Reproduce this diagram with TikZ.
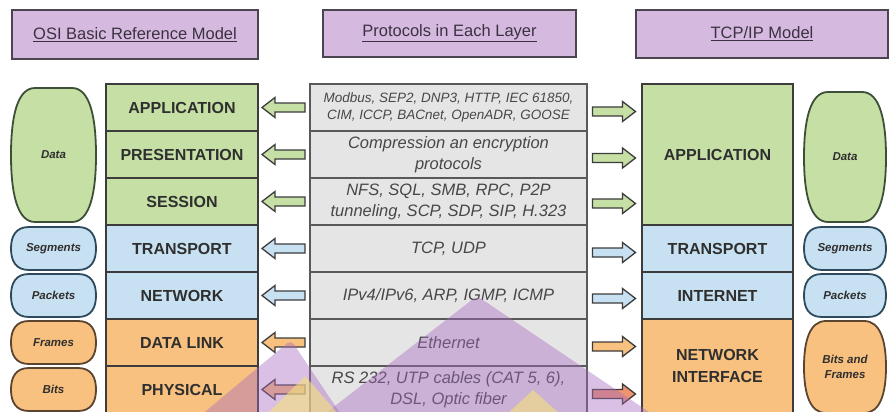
\documentclass[tikz,border=0pt]{standalone}
\usepackage{fontspec}
\setmainfont{Liberation Sans}
\definecolor{hdrfill}{HTML}{D6B9DF}
\definecolor{hdrline}{HTML}{4B4550}
\definecolor{hdrtext}{HTML}{3A3242}
\definecolor{grn}{HTML}{C5DFA5}
\definecolor{blu}{HTML}{C8E1F2}
\definecolor{org}{HTML}{F9C17F}
\definecolor{sal}{HTML}{EE9470}
\definecolor{gry}{HTML}{E5E5E5}
\definecolor{edge}{HTML}{3C3C3C}
\definecolor{lbl}{HTML}{2F2F2F}
\definecolor{ptxt}{HTML}{474747}
\definecolor{grnedge}{HTML}{3D4F36}
\definecolor{bluedge}{HTML}{2D4A5E}
\definecolor{orgedge}{HTML}{5B4430}
\definecolor{wmpurple}{HTML}{A56BBF}
\definecolor{wmyellow}{HTML}{F6E27C}

% barrel outline: x0, y0, x1, y1, corner inset
\newcommand\barrelpath[5]{%
  ({#1+#5},#2) -- ({#3-#5},#2)
  .. controls ({#3-0.25*#5},#2) and (#3,{#2+0.22*(#4-#2)}) .. (#3,{0.5*(#2+#4)})
  .. controls (#3,{#4-0.22*(#4-#2)}) and ({#3-0.25*#5},#4) .. ({#3-#5},#4)
  -- ({#1+#5},#4)
  .. controls ({#1+0.25*#5},#4) and (#1,{#4-0.22*(#4-#2)}) .. (#1,{0.5*(#2+#4)})
  .. controls (#1,{#2+0.22*(#4-#2)}) and ({#1+0.25*#5},#2) .. ({#1+#5},#2) -- cycle}

\begin{document}
\begin{tikzpicture}[x=1pt,y=-1pt,
  hdrbox/.style={draw=hdrline,line width=1.6pt,fill=hdrfill,text=hdrtext,
    font=\fontsize{16.5}{19}\selectfont,inner sep=0pt},
  layerbox/.style={draw=edge,line width=1.6pt,text=lbl,
    font=\bfseries\fontsize{16}{22}\selectfont,align=center,inner sep=0pt},
  protbox/.style={draw=edge!85,line width=1.6pt,fill=gry,text=ptxt,
    font=\itshape\fontsize{16.5}{21}\selectfont,align=center,inner sep=0pt},
  pillline/.style={line width=1.8pt},
  pilltext/.style={font=\bfseries\itshape\fontsize{11.5}{15}\selectfont,text=lbl,align=center,inner sep=0pt},
  arrowline/.style={draw=edge,line width=1.3pt,line join=miter},
  pics/leftarrow/.style={code={\path[arrowline,fill=#1]
    (21.5,-4.5) -- (-8.5,-4.5) -- (-8.5,-10) -- (-21.5,0) -- (-8.5,10) -- (-8.5,4.5) -- (21.5,4.5) -- cycle;}},
  pics/rightarrow/.style={code={\path[arrowline,fill=#1]
    (-21.5,-4.5) -- (8.5,-4.5) -- (8.5,-10) -- (21.5,0) -- (8.5,10) -- (8.5,4.5) -- (-21.5,4.5) -- cycle;}},
]
\useasboundingbox (0,0) rectangle (889,412);
\fill[white] (0,0) rectangle (889,412);

% column headings
\node[hdrbox,minimum width=246,minimum height=49] (osihdr) at (135,34.5) {\underline{OSI Basic Reference Model}};
\node[hdrbox,minimum width=253,minimum height=47] (prothdr) at (449.5,33.5) {\underline{Protocols in Each Layer}};
\node[hdrbox,minimum width=252,minimum height=48] (tcphdr) at (762,34) {\underline{TCP/IP Model}};

% OSI stack
\node[layerbox,fill=grn,minimum width=152,minimum height=47] (osi1) at (182,107.5) {APPLICATION};
\node[layerbox,fill=grn,minimum width=152,minimum height=47] (osi2) at (182,154.5) {PRESENTATION};
\node[layerbox,fill=grn,minimum width=152,minimum height=47] (osi3) at (182,201.5) {SESSION};
\node[layerbox,fill=blu,minimum width=152,minimum height=47] (osi4) at (182,248.5) {TRANSPORT};
\node[layerbox,fill=blu,minimum width=152,minimum height=47] (osi5) at (182,295.5) {NETWORK};
\node[layerbox,fill=org,minimum width=152,minimum height=47] (osi6) at (182,342.5) {DATA LINK};
\node[layerbox,fill=org,minimum width=152,minimum height=47] (osi7) at (182,389.5) {PHYSICAL};

% protocol column
\node[protbox,minimum width=277,minimum height=47,font=\itshape\fontsize{13.5}{17}\selectfont] (p1) at (448.5,107.5)
  {Modbus, SEP2, DNP3, HTTP, IEC 61850,\\CIM, ICCP, BACnet, OpenADR, GOOSE};
\node[protbox,minimum width=277,minimum height=47] (p2) at (448.5,154.5) {Compression an encryption\\protocols};
\node[protbox,minimum width=277,minimum height=47] (p3) at (448.5,201.5) {NFS, SQL, SMB, RPC, P2P\\tunneling, SCP, SDP, SIP, H.323};
\node[protbox,minimum width=277,minimum height=47] (p4) at (448.5,248.5) {TCP, UDP};
\node[protbox,minimum width=277,minimum height=47] (p5) at (448.5,295.5) {IPv4/IPv6, ARP, IGMP, ICMP};
\node[protbox,minimum width=277,minimum height=47] (p6) at (448.5,342.5) {Ethernet};
\node[protbox,minimum width=277,minimum height=47] (p7) at (448.5,389.5) {RS 232, UTP cables (CAT 5, 6),\\DSL, Optic fiber};

% TCP/IP stack
\node[layerbox,fill=grn,minimum width=151,minimum height=141] (t1) at (717.5,154.5) {APPLICATION};
\node[layerbox,fill=blu,minimum width=151,minimum height=47] (t2) at (717.5,248.5) {TRANSPORT};
\node[layerbox,fill=blu,minimum width=151,minimum height=47] (t3) at (717.5,295.5) {INTERNET};
\node[layerbox,fill=org,minimum width=151,minimum height=94] (t4) at (717.5,366) {NETWORK\\INTERFACE};

% arrows towards the OSI layers
\pic at (283.5,107.5) {leftarrow=grn};
\pic at (283.5,154.5) {leftarrow=grn};
\pic at (283.5,201.5) {leftarrow=grn};
\pic at (283.5,248.5) {leftarrow=blu};
\pic at (283.5,295.5) {leftarrow=blu};
\pic at (283.5,342.5) {leftarrow=org};
\pic at (283.5,389.5) {leftarrow=org};

% arrows towards the TCP/IP layers
\pic at (614,111.5) {rightarrow=grn};
\pic at (614,158) {rightarrow=grn};
\pic at (614,203.5) {rightarrow=grn};
\pic at (614,252.5) {rightarrow=blu};
\pic at (614,298.5) {rightarrow=blu};
\pic at (614,346.5) {rightarrow=org};
\pic at (614,394) {rightarrow=sal};

% data units, OSI side
\draw[pillline,draw=grnedge,fill=grn] \barrelpath{11}{88}{96}{222}{24};
\node[pilltext] (ldata) at (53.5,155) {Data};
\draw[pillline,draw=bluedge,fill=blu] \barrelpath{11}{227}{96}{270}{18};
\node[pilltext] (lseg) at (53.5,248.5) {Segments};
\draw[pillline,draw=bluedge,fill=blu] \barrelpath{11}{274}{96}{317}{18};
\node[pilltext] (lpkt) at (53.5,295.5) {Packets};
\draw[pillline,draw=orgedge,fill=org] \barrelpath{11}{321}{96}{364}{18};
\node[pilltext] (lfrm) at (53.5,342.5) {Frames};
\draw[pillline,draw=orgedge,fill=org] \barrelpath{11}{368}{96}{411}{18};
\node[pilltext] (lbit) at (53.5,389.5) {Bits};

% data units, TCP/IP side
\draw[pillline,draw=grnedge,fill=grn] \barrelpath{804}{92}{886}{222}{24};
\node[pilltext] (rdata) at (845,157) {Data};
\draw[pillline,draw=bluedge,fill=blu] \barrelpath{804}{227}{886}{270}{18};
\node[pilltext] (rseg) at (845,248.5) {Segments};
\draw[pillline,draw=bluedge,fill=blu] \barrelpath{804}{274}{886}{317}{18};
\node[pilltext] (rpkt) at (845,295.5) {Packets};
\draw[pillline,draw=orgedge,fill=org] \barrelpath{804}{321}{886}{413}{22};
\node[pilltext] (rbf) at (845,367) {Bits and\\Frames};

% faint logo in the background
\begin{scope}[fill opacity=0.42]
  \fill[wmpurple,rounded corners=5pt] (291,340) -- (200,416) -- (342,416) -- cycle;
  \fill[wmpurple,rounded corners=6pt] (477,296) -- (322,416) -- (655,416) -- cycle;
\end{scope}
\begin{scope}[fill opacity=0.6]
  \fill[wmyellow] (305,376) -- (265,416) -- (340,416) -- cycle;
  \fill[wmyellow] (533,390) -- (505,416) -- (562,416) -- cycle;
\end{scope}
\end{tikzpicture}
\end{document}
